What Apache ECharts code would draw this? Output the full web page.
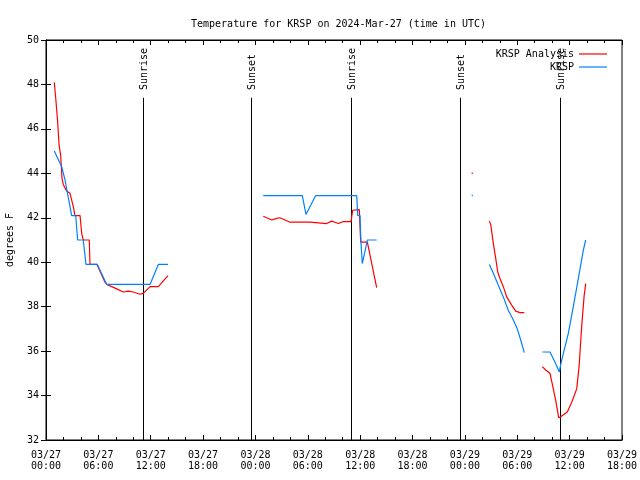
<!DOCTYPE html>
<html>
<head>
<meta charset="utf-8">
<script src="https://cdn.jsdelivr.net/npm/echarts@6/dist/echarts.min.js"></script>
<style>html,body{margin:0;padding:0;background:#fff}#c{width:640px;height:480px}</style>
</head>
<body>
<div id="c"></div>
<script>
// Times are hours since 2024-03-27 00:00 UTC; null marks a gap in the record
const analysisTime = [0.95,1.11,1.34,1.49,1.68,1.83,1.98,2.37,2.75,3.13,3.32,3.9,4.09,4.27,4.96,5.04,5.84,6.76,6.96,7.53,8.1,8.86,9.43,10.0,10.77,11.15,11.92,12.87,13.98,
  null,
  24.9,25.29,25.86,26.43,26.81,27.39,27.96,30.25,30.45,32.16,32.74,33.12,33.5,34.07,34.95,35.14,35.29,35.9,35.98,36.06,36.82,37.89,
  null,
  50.8,50.96,51.26,51.53,51.76,52.02,52.4,52.79,53.36,53.82,54.31,54.81,
  null,
  56.87,57.29,57.75,58.13,58.44,58.75,59.01,59.73,60.24,60.81,61.08,61.38,61.65,61.84];
const analysisTemp = [48.1,47.4,46.3,45.3,44.8,43.8,43.5,43.2,43.1,42.5,42.1,42.1,41.3,41.0,41.0,39.9,39.9,39.1,39.0,38.9,38.8,38.66,38.7,38.66,38.56,38.6,38.9,38.9,39.4,
  null,
  42.07,42.0,41.9,41.97,42.0,41.9,41.8,41.8,41.74,41.74,41.85,41.8,41.74,41.83,41.83,42.34,42.37,42.37,41.6,40.9,40.9,38.86,
  null,
  41.85,41.7,40.84,40.17,39.56,39.27,38.9,38.44,38.07,37.8,37.73,37.73,
  null,
  35.3,35.14,35.0,34.3,33.7,33.0,33.06,33.26,33.7,34.3,35.3,37.1,38.44,39.04];
const obsTime = [0.95,1.8,2.18,2.75,2.94,3.4,3.63,4.27,4.58,5.88,6.96,11.92,12.87,13.98,
  null,
  24.9,29.37,29.79,30.9,35.6,35.72,35.98,36.09,36.24,36.5,36.82,37.89,
  null,
  50.8,51.26,51.83,52.4,52.97,53.55,54.0,54.39,54.81,
  null,
  56.87,57.75,58.33,58.82,58.98,59.28,59.85,60.42,61.0,61.57,61.84];
const obsTemp = [45.0,44.3,43.7,42.5,42.1,42.1,41.0,41.0,39.9,39.9,39.0,39.0,39.9,39.9,
  null,
  43.0,43.0,42.15,43.0,43.0,42.1,42.1,40.9,39.94,40.4,41.0,41.0,
  null,
  39.9,39.5,38.96,38.44,37.84,37.4,37.0,36.5,35.93,
  null,
  35.96,35.96,35.5,35.06,35.4,35.9,36.8,38.0,39.27,40.54,41.0];
// single isolated readings
const analysisLoneTime = [48.85], analysisLoneTemp = [44.0];
const obsLoneTime = [48.85], obsLoneTemp = [43.0];
// sun events
const sunTime = [11.15, 23.45, 34.98, 47.44, 58.9];
const sunLabel = ['Sunrise','Sunset','Sunrise','Sunset','Sunrise'];

const FONT = '"DejaVu Sans Mono", monospace';
function pairs(t, v) {
  return t.map((x, i) => x === null ? ['-', '-'] : [x, v[i]]);
}
function xLabel(h) {
  const day = 27 + Math.floor(h / 24);
  const hr = h % 24;
  return '03/' + day + '\n' + (hr < 10 ? '0' : '') + hr + ':00';
}
const chart = echarts.init(document.getElementById('c'));
const xBase = {
  type: 'value', min: 0, max: 66, interval: 6,
  splitLine: {show: false},
  axisLine: {show: true, lineStyle: {color: '#000', width: 1}},
  axisTick: {show: true, inside: true, length: 5, lineStyle: {color: '#000'}},
  minorTick: {show: true, splitNumber: 3, length: 3, lineStyle: {color: '#000'}}
};
const yBase = {
  type: 'value', min: 32, max: 50, interval: 2,
  splitLine: {show: false},
  axisLine: {show: true, lineStyle: {color: '#000', width: 1}},
  axisTick: {show: true, inside: true, length: 5, lineStyle: {color: '#000'}}
};
const legendText = {fontFamily: FONT, fontSize: 10, color: '#000'};
chart.setOption({
  animation: false,
  backgroundColor: '#fff',
  title: {
    text: 'Temperature for KRSP on 2024-Mar-27 (time in UTC)',
    left: 186, top: 14,
    textStyle: {fontFamily: FONT, fontSize: 10, fontWeight: 'normal', color: '#000'}
  },
  legend: [
    {data: [{name: 'KRSP Analysis', icon: 'rect'}], right: 28, top: 44, align: 'right',
     itemWidth: 28, itemHeight: 1.2, textStyle: legendText},
    {data: [{name: 'KRSP', icon: 'rect'}], right: 28, top: 57, align: 'right',
     itemWidth: 28, itemHeight: 1.2, textStyle: legendText}
  ],
  grid: {left: 46, right: 18, top: 40, bottom: 40, show: true, borderColor: '#000', borderWidth: 1,
         containLabel: false, outerBoundsMode: 'none'},
  xAxis: [
    Object.assign({}, xBase, {
      position: 'bottom',
      axisLabel: {formatter: xLabel, fontFamily: FONT, fontSize: 10, color: '#000', lineHeight: 11, margin: 10,
        showMinLabel: true, showMaxLabel: true}
    }),
    Object.assign({}, xBase, {position: 'top', axisLabel: {show: false}})
  ],
  yAxis: [
    Object.assign({}, yBase, {
      position: 'left',
      name: 'degrees F', nameLocation: 'middle', nameRotate: 90, nameGap: 31,
      nameTextStyle: {fontFamily: FONT, fontSize: 10, color: '#000'},
      axisLabel: {fontFamily: FONT, fontSize: 10, color: '#000', margin: 7}
    }),
    Object.assign({}, yBase, {position: 'right', axisLabel: {show: false}})
  ],
  series: [
    {
      name: 'KRSP Analysis', type: 'line', data: pairs(analysisTime, analysisTemp),
      symbol: 'none', connectNulls: false, color: '#ff0000',
      lineStyle: {color: '#ff0000', width: 1.2}, z: 3
    },
    {
      name: 'KRSP', type: 'line', data: pairs(obsTime, obsTemp),
      symbol: 'none', connectNulls: false, color: '#0080ff',
      lineStyle: {color: '#0080ff', width: 1.2}, z: 4
    },
    {
      name: 'analysis-single', type: 'scatter', data: pairs(analysisLoneTime, analysisLoneTemp),
      symbol: 'rect', symbolSize: 1.5, itemStyle: {color: '#ff0000'}, silent: true
    },
    {
      name: 'obs-single', type: 'scatter', data: pairs(obsLoneTime, obsLoneTemp),
      symbol: 'rect', symbolSize: 1.5, itemStyle: {color: '#0080ff'}, silent: true
    },
    {
      name: 'sun', type: 'custom', silent: true, z: 2,
      data: sunTime.map((t, i) => [t, i]),
      renderItem: function (params, api) {
        const t = api.value(0);
        const i = api.value(1);
        const bottom = api.coord([t, 32]);
        const top = api.coord([t, 47.4]);
        const textPt = api.coord([t, 47.75]);
        const x = Math.round(bottom[0]) + 0.5;
        return {
          type: 'group',
          children: [
            {type: 'line', shape: {x1: x, y1: bottom[1], x2: x, y2: top[1]},
             style: {stroke: '#000', lineWidth: 1}},
            {type: 'text', x: x + 1, y: textPt[1], rotation: Math.PI / 2,
             style: {text: sunLabel[i], fill: '#000', font: '10px ' + FONT,
                     textAlign: 'left', textVerticalAlign: 'middle'}}
          ]
        };
      }
    }
  ]
});
</script>
</body>
</html>
